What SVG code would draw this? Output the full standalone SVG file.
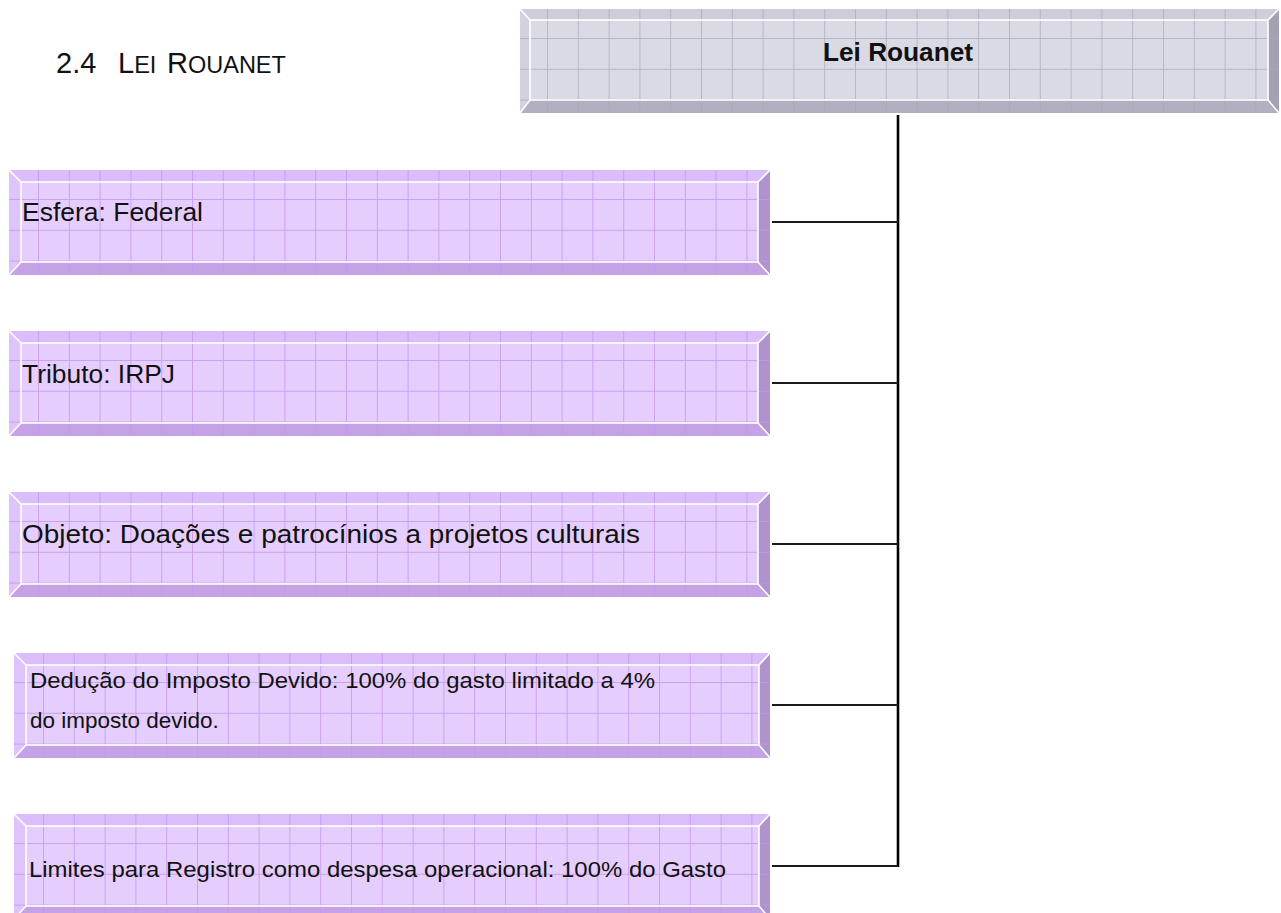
<svg xmlns="http://www.w3.org/2000/svg" width="1281" height="913" viewBox="0 0 1281 913">
  <style>
    .txt { font-family: "Liberation Sans", Arial, sans-serif; fill: #111; }
    .hdr { font-family: "Liberation Sans", Arial, sans-serif; font-weight: bold; fill: #111; }
    .p-top { fill: #dbbdfb; }
    .p-left { fill: #dfc3fc; }
    .p-bot { fill: #c4a2e5; }
    .p-right { fill: #ae93cd; }
    .p-face { fill: #e5cdfd; }
    .g-top { fill: #cecdd9; }
    .g-left { fill: #d2d1dd; }
    .g-bot { fill: #b1afc1; }
    .g-right { fill: #a3a1b3; }
    .g-face { fill: #dadae4; }
    .rim { fill: none; stroke: #ffffff; stroke-width: 1.6; }
    .link { fill: none; stroke: #1a1a1a; stroke-width: 2.2; }
    .trunk { fill: none; stroke: #000; stroke-width: 2.6; }
  </style>
  <defs>
    <pattern id="gridPurple" patternUnits="userSpaceOnUse" x="29" y="29" width="30.8" height="30.8">
      <path d="M0.5 0 V30.8 M0 0.5 H30.8" fill="none" stroke="#c497ee" stroke-opacity="0.8" stroke-width="1"/>
    </pattern>
    <pattern id="gridGray" patternUnits="userSpaceOnUse" x="27" y="29" width="30.8" height="30.8">
      <path d="M0.5 0 V30.8 M0 0.5 H30.8" fill="none" stroke="#a9a7bb" stroke-opacity="0.7" stroke-width="1"/>
    </pattern>
  </defs>

  <rect width="1281" height="913" fill="#ffffff"/>

  <!-- section heading, small caps built from two sizes -->
  <text id="heading" class="txt" x="56" y="73" font-size="29">2.4<tspan x="118">L</tspan><tspan font-size="23.5">EI</tspan><tspan x="167">R</tspan><tspan font-size="23.5">OUANET</tspan></text>

  <!-- connectors -->
  <g id="connectors">
    <line class="trunk" x1="898" y1="115" x2="898" y2="867"/>
    <line class="link" x1="772" y1="222" x2="898" y2="222"/>
    <line class="link" x1="772" y1="383" x2="898" y2="383"/>
    <line class="link" x1="772" y1="544" x2="898" y2="544"/>
    <line class="link" x1="772" y1="705" x2="898" y2="705"/>
    <line class="link" x1="772" y1="866" x2="898" y2="866"/>
  </g>

  <!-- root: W=759 H=104, bevel L10 T11 R11 B13 -->
  <g id="node-root" transform="translate(520,9)">
    <polygon class="g-top" points="0,0 759,0 748,11 10,11"/>
    <polygon class="g-left" points="0,0 10,11 10,91 0,104"/>
    <polygon class="g-bot" points="0,104 10,91 748,91 759,104"/>
    <polygon class="g-right" points="759,0 759,104 748,91 748,11"/>
    <rect class="g-face" x="10" y="11" width="738" height="80"/>
    <rect x="0" y="0" width="759" height="104" fill="url(#gridGray)"/>
    <rect class="rim" x="10" y="11" width="738" height="80"/>
    <path class="rim" d="M0 0 L10 11 M759 0 L748 11 M0 104 L10 91 M759 104 L748 91"/>
    <text class="hdr" x="378" y="52" font-size="25" text-anchor="middle" textLength="150" lengthAdjust="spacingAndGlyphs">Lei Rouanet</text>
  </g>

  <!-- child boxes: W=761 H=105, bevel L12 T12 R12 B13 -->
  <g id="node-esfera" transform="translate(9,170)">
    <polygon class="p-top" points="0,0 761,0 749,12 12,12"/>
    <polygon class="p-left" points="0,0 12,12 12,92 0,105"/>
    <polygon class="p-bot" points="0,105 12,92 749,92 761,105"/>
    <polygon class="p-right" points="761,0 761,105 749,92 749,12"/>
    <rect class="p-face" x="12" y="12" width="737" height="80"/>
    <rect x="0" y="0" width="761" height="105" fill="url(#gridPurple)"/>
    <rect class="rim" x="12" y="12" width="737" height="80"/>
    <path class="rim" d="M0 0 L12 12 M761 0 L749 12 M0 105 L12 92 M761 105 L749 92"/>
    <text class="txt" x="13" y="51" font-size="25.5" textLength="181" lengthAdjust="spacingAndGlyphs">Esfera: Federal</text>
  </g>

  <g id="node-tributo" transform="translate(9,331)">
    <polygon class="p-top" points="0,0 761,0 749,12 12,12"/>
    <polygon class="p-left" points="0,0 12,12 12,92 0,105"/>
    <polygon class="p-bot" points="0,105 12,92 749,92 761,105"/>
    <polygon class="p-right" points="761,0 761,105 749,92 749,12"/>
    <rect class="p-face" x="12" y="12" width="737" height="80"/>
    <rect x="0" y="0" width="761" height="105" fill="url(#gridPurple)"/>
    <rect class="rim" x="12" y="12" width="737" height="80"/>
    <path class="rim" d="M0 0 L12 12 M761 0 L749 12 M0 105 L12 92 M761 105 L749 92"/>
    <text class="txt" x="13" y="52" font-size="25.5" textLength="153" lengthAdjust="spacingAndGlyphs">Tributo: IRPJ</text>
  </g>

  <g id="node-objeto" transform="translate(9,492)">
    <polygon class="p-top" points="0,0 761,0 749,12 12,12"/>
    <polygon class="p-left" points="0,0 12,12 12,92 0,105"/>
    <polygon class="p-bot" points="0,105 12,92 749,92 761,105"/>
    <polygon class="p-right" points="761,0 761,105 749,92 749,12"/>
    <rect class="p-face" x="12" y="12" width="737" height="80"/>
    <rect x="0" y="0" width="761" height="105" fill="url(#gridPurple)"/>
    <rect class="rim" x="12" y="12" width="737" height="80"/>
    <path class="rim" d="M0 0 L12 12 M761 0 L749 12 M0 105 L12 92 M761 105 L749 92"/>
    <text class="txt" x="13" y="51" font-size="26" textLength="618" lengthAdjust="spacingAndGlyphs">Objeto: Doações e patrocínios a projetos culturais</text>
  </g>

  <!-- W=756 H=105 -->
  <g id="node-deducao" transform="translate(14,653)">
    <polygon class="p-top" points="0,0 756,0 745,12 12,12"/>
    <polygon class="p-left" points="0,0 12,12 12,92 0,105"/>
    <polygon class="p-bot" points="0,105 12,92 745,92 756,105"/>
    <polygon class="p-right" points="756,0 756,105 745,92 745,12"/>
    <rect class="p-face" x="12" y="12" width="733" height="80"/>
    <rect x="0" y="0" width="756" height="105" fill="url(#gridPurple)"/>
    <rect class="rim" x="12" y="12" width="733" height="80"/>
    <path class="rim" d="M0 0 L12 12 M756 0 L745 12 M0 105 L12 92 M756 105 L745 92"/>
    <text class="txt" x="16" y="35" font-size="22.5" textLength="625" lengthAdjust="spacingAndGlyphs">Dedução do Imposto Devido: 100% do gasto limitado a 4%</text>
    <text class="txt" x="16" y="75" font-size="22.5">do imposto devido.</text>
  </g>

  <g id="node-limites" transform="translate(14,814)">
    <polygon class="p-top" points="0,0 756,0 745,12 12,12"/>
    <polygon class="p-left" points="0,0 12,12 12,92 0,105"/>
    <polygon class="p-bot" points="0,105 12,92 745,92 756,105"/>
    <polygon class="p-right" points="756,0 756,105 745,92 745,12"/>
    <rect class="p-face" x="12" y="12" width="733" height="80"/>
    <rect x="0" y="0" width="756" height="105" fill="url(#gridPurple)"/>
    <rect class="rim" x="12" y="12" width="733" height="80"/>
    <path class="rim" d="M0 0 L12 12 M756 0 L745 12 M0 105 L12 92 M756 105 L745 92"/>
    <text class="txt" x="15" y="63" font-size="22.5" textLength="697" lengthAdjust="spacingAndGlyphs">Limites para Registro como despesa operacional: 100% do Gasto</text>
  </g>
</svg>
